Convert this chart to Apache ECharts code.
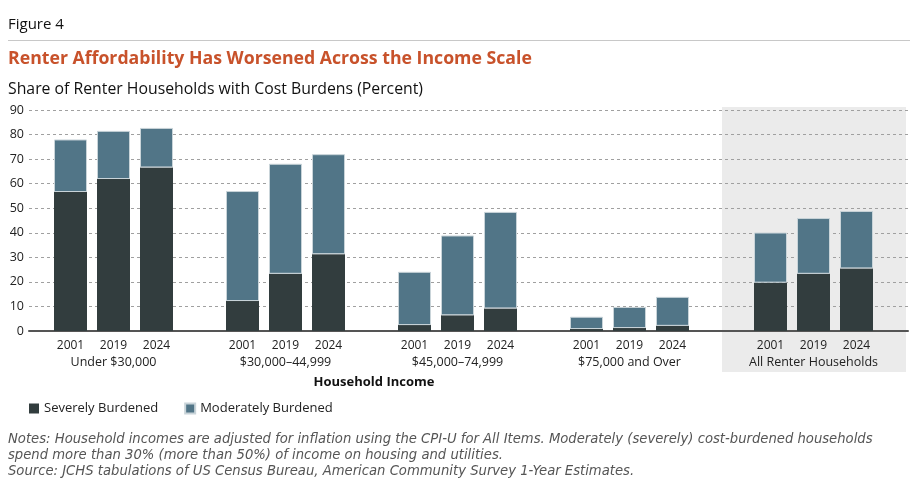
<!DOCTYPE html>
<html>
<head>
<meta charset="utf-8">
<script src="https://cdn.jsdelivr.net/npm/echarts@6/dist/echarts.min.js"></script>
<style>
  html, body { margin: 0; padding: 0; background: #fff; }
  #chart { width: 913px; height: 496px; }
</style>
</head>
<body>
<div id="chart"></div>
<script>
var chartDom = document.getElementById('chart');
var myChart = echarts.init(chartDom);
var option;

// Data: years, income groups, shares (percent)
const years = ['2001', '2019', '2024'];
const groups = ['Under $30,000', '$30,000\u201344,999', '$45,000\u201374,999', '$75,000 and Over', 'All Renter Households'];
const severe = [
  [56.6, 61.9, 66.6],
  [12.2, 23.3, 31.3],
  [2.4, 6.4, 9.2],
  [0.8, 1.2, 2.1],
  [19.7, 23.3, 25.5]
];
const moderate = [
  [21.4, 19.6, 16.1],
  [44.8, 44.8, 40.7],
  [21.7, 32.5, 39.3],
  [5.0, 8.6, 11.8],
  [20.4, 22.7, 23.4]
];
const yTicks = { min: 0, max: 90, interval: 10 };

const FONT = '"Open Sans", sans-serif';
const colSevere = '#323d3e';
const colModerate = '#517587';

// build category slots: groups with an empty slot between them
function buildSlots(groupIdx) {
  const cats = [], labels = [], sev = [], mod = [];
  groupIdx.forEach(function (g, n) {
    if (n > 0) {
      cats.push('gap' + n); labels.push(''); sev.push('-'); mod.push('-');
    }
    years.forEach(function (y, i) {
      cats.push(g + '-' + y);
      labels.push(i === 1 ? '{y|' + y + '}\n{g|' + groups[g] + '}' : '{y|' + y + '}');
      sev.push(severe[g][i]);
      mod.push(moderate[g][i]);
    });
  });
  return { cats: cats, labels: labels, sev: sev, mod: mod };
}
const left = buildSlots([0, 1, 2, 3]);
const right = buildSlots([4]);

const labelRich = {
  y: { fontFamily: FONT, fontSize: 12, color: '#222', lineHeight: 16 },
  g: { fontFamily: FONT, fontSize: 12.5, color: '#222', lineHeight: 16 }
};

function catAxis(gridIndex, slots) {
  return {
    type: 'category',
    gridIndex: gridIndex,
    data: slots.cats,
    axisLine: { show: false },
    axisTick: { show: false },
    axisLabel: {
      interval: 0,
      margin: 7,
      formatter: function (v, idx) { return slots.labels[idx]; },
      rich: labelRich
    }
  };
}
function hiddenY(gridIndex) {
  return {
    type: 'value', gridIndex: gridIndex,
    min: yTicks.min, max: yTicks.max, interval: yTicks.interval,
    axisLine: { show: false }, axisTick: { show: false },
    axisLabel: { show: false }, splitLine: { show: false }
  };
}

const severeStyle = { color: colSevere };
const moderateStyle = { color: colModerate, borderColor: '#c9d4d9', borderWidth: 1 };

option = {
  animation: false,
  textStyle: { fontFamily: FONT },
  title: [
    { text: 'Figure 4', left: 8, top: 17, padding: 0, textStyle: { fontFamily: FONT, fontSize: 15, fontWeight: 'normal', color: '#111' } },
    { text: 'Renter Affordability Has Worsened Across the Income Scale', left: 8, top: 50, padding: 0, textStyle: { fontFamily: FONT, fontSize: 17.7, fontWeight: 'bold', color: '#c8522b' } },
    { text: 'Share of Renter Households with Cost Burdens (Percent)', left: 8, top: 81, padding: 0, textStyle: { fontFamily: FONT, fontSize: 15.8, fontWeight: 'normal', color: '#111' } },
    { text: 'Household Income', left: 374, top: 376, padding: 0, textAlign: 'center', textStyle: { fontFamily: FONT, fontSize: 13, fontWeight: 'bold', color: '#111' } },
    {
      text: 'Notes: Household incomes are adjusted for inflation using the CPI-U for All Items. Moderately (severely) cost-burdened households\nspend more than 30% (more than 50%) of income on housing and utilities.\nSource: JCHS tabulations of US Census Bureau, American Community Survey 1-Year Estimates.',
      left: 8, top: 432, padding: 0,
      textStyle: { fontFamily: '"DejaVu Sans", sans-serif', fontSize: 13.2, fontStyle: 'italic', fontWeight: 'normal', color: '#555', lineHeight: 16 }
    }
  ],
  graphic: [
    { type: 'line', shape: { x1: 8, y1: 40.5, x2: 910, y2: 40.5 }, style: { stroke: '#c8c8c8', lineWidth: 1 }, silent: true },
    { type: 'rect', z: -10, shape: { x: 722, y: 107, width: 184, height: 265 }, style: { fill: '#ebebeb' }, silent: true }
  ],
  legend: {
    left: 24, top: 397,
    itemWidth: 10, itemHeight: 10, itemGap: 26,
    icon: 'rect',
    data: ['Severely Burdened', 'Moderately Burdened'],
    textStyle: { fontFamily: FONT, fontSize: 13, color: '#222' }
  },
  grid: [
    { left: 29, right: 5, top: 110, bottom: 165 },
    { left: 49, right: 219, top: 110, bottom: 165 },
    { left: 749, right: 35, top: 110, bottom: 165 }
  ],
  xAxis: [
    { type: 'value', gridIndex: 0, min: 0, max: 1, axisLabel: { show: false }, axisTick: { show: false }, splitLine: { show: false },
      axisLine: { show: true, lineStyle: { color: '#555', width: 2 } } },
    catAxis(1, left),
    catAxis(2, right)
  ],
  yAxis: [
    {
      type: 'value', gridIndex: 0,
      min: yTicks.min, max: yTicks.max, interval: yTicks.interval,
      axisLine: { show: false }, axisTick: { show: false },
      axisLabel: { margin: 5, fontFamily: FONT, fontSize: 12.5, color: '#222' },
      splitLine: { lineStyle: { color: '#a0a0a0', type: [3, 3], width: 1 } }
    },
    hiddenY(1),
    hiddenY(2)
  ],
  series: [
    { name: 'Severely Burdened', type: 'bar', stack: 'a', xAxisIndex: 1, yAxisIndex: 1, barWidth: 33, data: left.sev, itemStyle: severeStyle },
    { name: 'Moderately Burdened', type: 'bar', stack: 'a', xAxisIndex: 1, yAxisIndex: 1, barWidth: 33, data: left.mod, itemStyle: moderateStyle },
    { name: 'Severely Burdened', type: 'bar', stack: 'b', xAxisIndex: 2, yAxisIndex: 2, barWidth: 33, data: right.sev, itemStyle: severeStyle },
    { name: 'Moderately Burdened', type: 'bar', stack: 'b', xAxisIndex: 2, yAxisIndex: 2, barWidth: 33, data: right.mod, itemStyle: moderateStyle }
  ]
};

option && myChart.setOption(option);
</script>
</body>
</html>
